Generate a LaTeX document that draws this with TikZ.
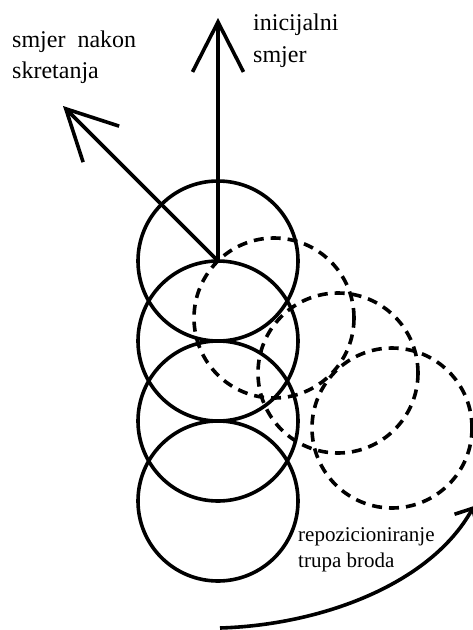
\documentclass[tikz,border=0pt]{standalone}
\usepackage{fontspec}
\setmainfont{Liberation Serif}
\usetikzlibrary{arrows.meta}
\begin{document}
\begin{tikzpicture}[x=1pt,y=-1pt,
        hull/.style={line width=3.6pt},
        moved/.style={line width=3.6pt, dash pattern=on 10pt off 7pt},
        dirarrow/.style={line width=3.6pt, -{Straight Barb[length=50pt,width=51pt]}},
        lbl/.style={inner sep=0pt, align=left, anchor=north west}]
        \useasboundingbox (0,0) rectangle (472,630);

        % hull positions
        \foreach \y/\name in {261/h1, 341/h2, 421/h3, 501/h4}
            \coordinate (\name) at (218,\y);
        \foreach \name in {h1,h2,h3,h4}
            \draw[hull] (\name) circle[radius=80pt];

        % repositioned hull
        \coordinate (m1) at (274,318);
        \coordinate (m2) at (338,373);
        \coordinate (m3) at (392,428);
        \foreach \name in {m1,m2,m3}
            \draw[moved] (\name) circle[radius=80pt];

        % directions
        \coordinate (initial) at (218,18);
        \coordinate (turned) at (63,106);
        \draw[dirarrow] (h1) -- (initial);
        \draw[dirarrow] (h1) -- (turned);

        \node[lbl, font=\fontsize{24}{31}\selectfont] (turnlbl) at (12,31) {smjer\ \ nakon\\skretanja};
        \node[lbl, font=\fontsize{24}{32}\selectfont] (initlbl) at (253,14) {inicijalni\\smjer};
        \node[lbl, font=\fontsize{21}{26}\selectfont] (movelbl) at (298,527) {repozicioniranje\\trupa broda};

        % repositioning arrow
        \coordinate (swingA) at (220,628);
        \coordinate (swingB) at (474,506);
        \draw[line width=3.6pt, -{Straight Barb[length=14pt,width=26pt]}]
            (swingA) .. controls (320,625) and (430,585) .. (swingB);
    \end{tikzpicture}
\end{document}
